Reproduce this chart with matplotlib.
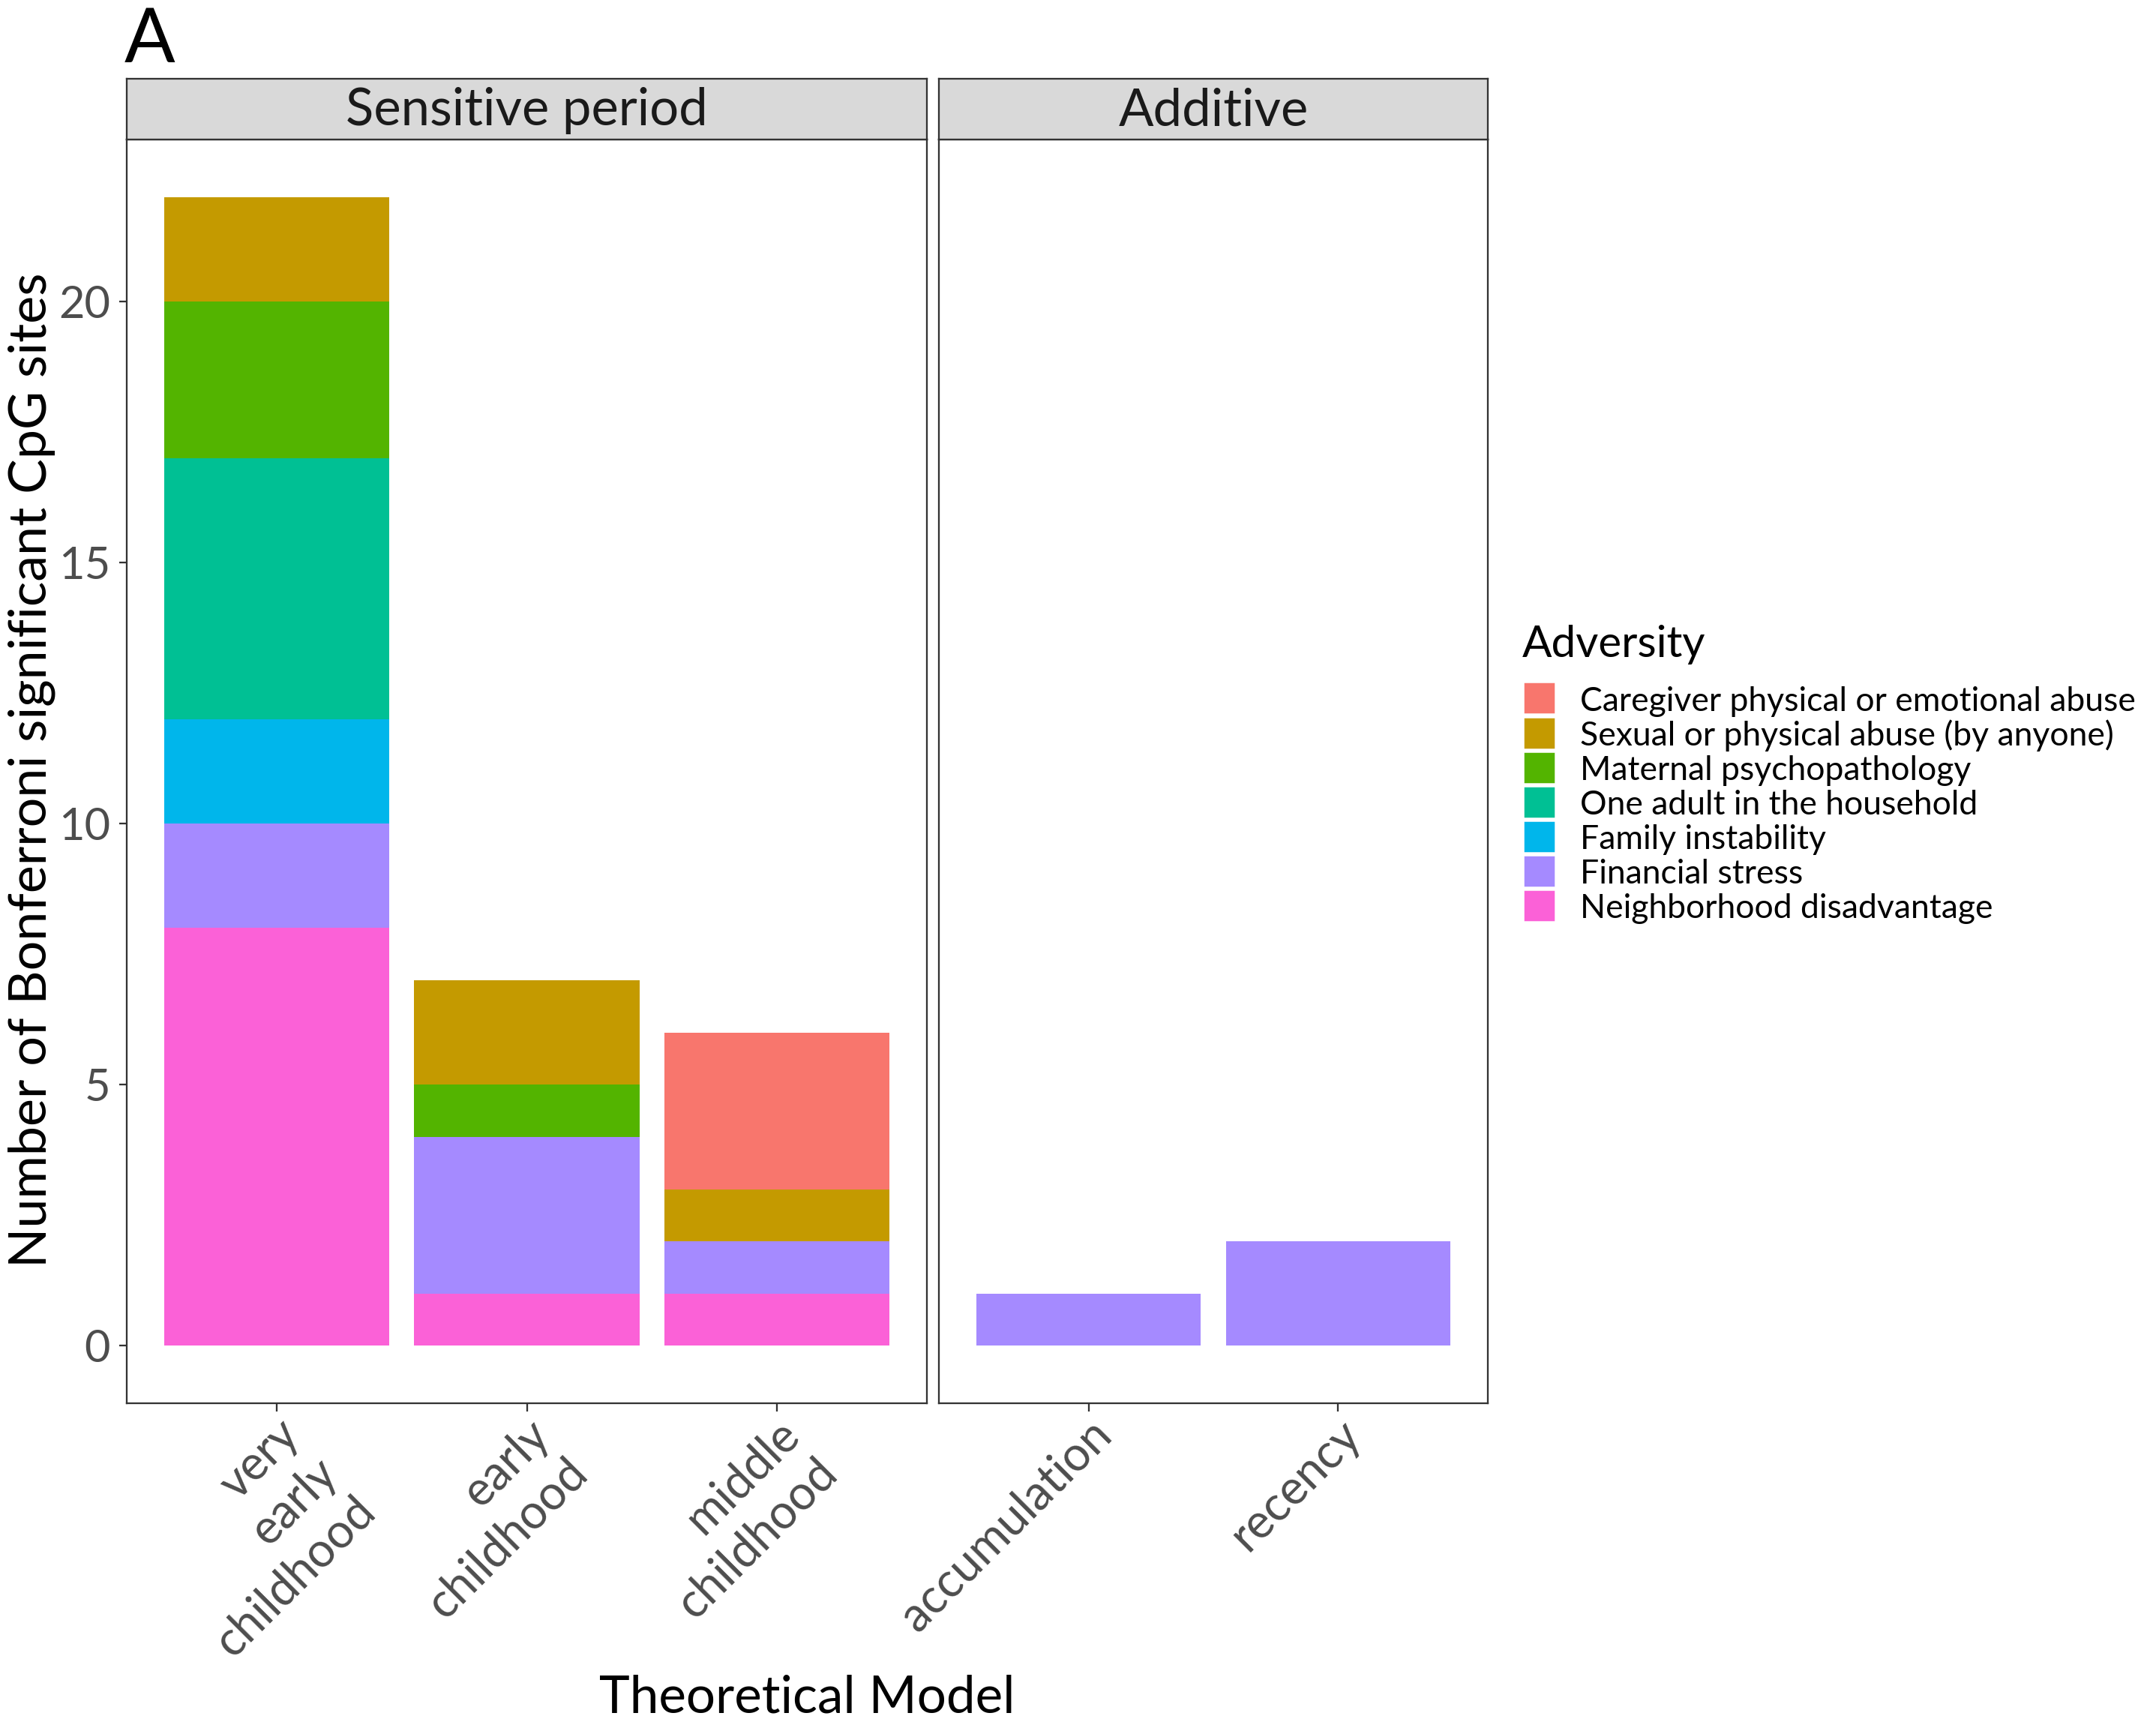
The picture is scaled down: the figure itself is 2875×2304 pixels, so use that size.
import matplotlib
matplotlib.use("Agg")
import matplotlib.pyplot as plt
from matplotlib.patches import Rectangle

plt.rcParams['font.family'] = ['Lato', 'DejaVu Sans']

# Adversity categories (legend order, top of stack first) and their colours
adversities = [
    "Caregiver physical or emotional abuse",
    "Sexual or physical abuse (by anyone)",
    "Maternal psychopathology",
    "One adult in the household",
    "Family instability",
    "Financial stress",
    "Neighborhood disadvantage",
]
adversity_colors = ["#F8766D", "#C49A00", "#53B400", "#00C094",
                    "#00B6EB", "#A58AFF", "#FB61D7"]

# Theoretical models, split by facet
sensitive_models = ["very\nearly\nchildhood", "early\nchildhood", "middle\nchildhood"]
additive_models = ["accumulation", "recency"]

# Number of significant CpG sites per adversity, one value per model
# order: very early childhood, early childhood, middle childhood, accumulation, recency
caregiver_abuse = [0, 0, 3, 0, 0]
sexual_physical_abuse = [2, 2, 1, 0, 0]
maternal_psychopathology = [3, 1, 0, 0, 0]
one_adult = [5, 0, 0, 0, 0]
family_instability = [2, 0, 0, 0, 0]
financial_stress = [2, 3, 1, 1, 2]
neighborhood_disadvantage = [8, 1, 1, 0, 0]

counts = [caregiver_abuse, sexual_physical_abuse, maternal_psychopathology,
          one_adult, family_instability, financial_stress,
          neighborhood_disadvantage]

W, H = 2875, 2304
DPI = 300
fig = plt.figure(figsize=(W / DPI, H / DPI), dpi=DPI)

GREY20 = "#333333"
GREY30 = "#4D4D4D"
LW = 0.55


def px_axes(x0, y0, x1, y1):
    return fig.add_axes([x0 / W, 1 - y1 / H, (x1 - x0) / W, (y1 - y0) / H])


panel_top, panel_bot = 186, 1871
strip_top = 105
panels = [
    (169, 1236, sensitive_models, slice(0, 3), "Sensitive period"),
    (1252, 1984, additive_models, slice(3, 5), "Additive"),
]

axes = []
for i, (x0, x1, models, sl, title) in enumerate(panels):
    ax = px_axes(x0, panel_top, x1, panel_bot)
    axes.append(ax)
    pos = list(range(1, len(models) + 1))
    bottoms = [0] * len(models)
    # stack from the last adversity (bottom) to the first (top)
    for name, col, vals in reversed(list(zip(adversities, adversity_colors, counts))):
        v = vals[sl]
        ax.bar(pos, v, bottom=bottoms, width=0.9, color=col, linewidth=0)
        bottoms = [b + a for b, a in zip(bottoms, v)]
    ax.set_xlim(0.4, len(models) + 0.6)
    ax.set_ylim(-1.1, 23.1)
    ax.set_xticks(pos)
    ax.set_xticklabels(models, rotation=45, ha='right', va='top',
                       rotation_mode='anchor', multialignment='right',
                       linespacing=1.3, fontsize=15.2, color=GREY30)
    ax.set_yticks([0, 5, 10, 15, 20])
    for s in ax.spines.values():
        s.set_color(GREY20)
        s.set_linewidth(LW)
    ax.tick_params(axis='x', length=2.6, width=LW, color=GREY20, pad=0.3)
    if i == 0:
        ax.tick_params(axis='y', length=2.3, width=LW, color=GREY20, pad=3,
                       labelsize=14.3, labelcolor=GREY30)
    else:
        ax.tick_params(axis='y', left=False, labelleft=False)

    # facet strip
    sax = px_axes(x0, strip_top, x1, panel_top)
    sax.set_facecolor("#D9D9D9")
    sax.set_xticks([])
    sax.set_yticks([])
    for s in sax.spines.values():
        s.set_color(GREY20)
        s.set_linewidth(LW)
    sax.text(0.5, 0.47, title, ha='center', va='center', fontsize=16.5,
             color="#1A1A1A", transform=sax.transAxes)

# axis titles and panel tag
fig.text(42 / W, 1 - 1027 / H, "Number of Bonferroni significant CpG sites",
         rotation=90, ha='center', va='center', fontsize=16.8, color="black")
fig.text(1076 / W, 1 - 2283 / H, "Theoretical Model", ha='center',
         va='baseline', fontsize=16.6, color="black")
fig.text(166 / W, 1 - 83 / H, "A", ha='left', va='baseline', fontsize=24,
         color="black")

# legend
fig.text(2030 / W, 1 - 876 / H, "Adversity", ha='left', va='baseline',
         fontsize=14, color="black")
key_x, key_w, key_h = 2031, 43, 43
row0, row_step = 931, 46
for k, (name, col) in enumerate(zip(adversities, adversity_colors)):
    yc = row0 + k * row_step
    fig.patches.append(Rectangle((key_x / W, 1 - (yc + key_h / 2) / H),
                                 key_w / W, key_h / H, facecolor=col,
                                 edgecolor='white', linewidth=0.6,
                                 transform=fig.transFigure, figure=fig))
    fig.text(2107 / W, 1 - yc / H, name, ha='left', va='center_baseline',
             fontsize=10.7, color="black")

fig.savefig("out.png", dpi=DPI, facecolor="white")
